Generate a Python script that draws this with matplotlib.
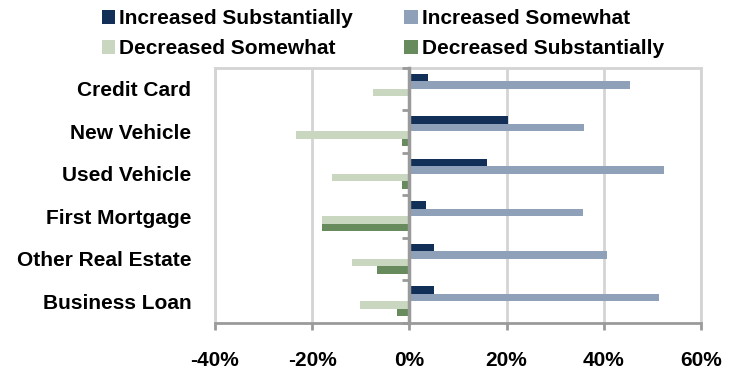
import matplotlib
matplotlib.use("Agg")
import matplotlib.pyplot as plt
import numpy as np

plt.rcParams['font.family'] = ['Liberation Sans', 'DejaVu Sans']

categories = ["Credit Card", "New Vehicle", "Used Vehicle", "First Mortgage",
              "Other Real Estate", "Business Loan"]
increased_substantially = [3.8, 20.3, 15.9, 3.5, 5.1, 5.1]
increased_somewhat = [45.3, 35.9, 52.4, 35.7, 40.7, 51.3]
decreased_somewhat = [-7.4, -23.4, -15.9, -17.9, -11.9, -10.2]
decreased_substantially = [0.0, -1.5, -1.5, -17.9, -6.7, -2.5]

series = [
    ("Increased Substantially", increased_substantially, "#112f57"),
    ("Increased Somewhat", increased_somewhat, "#8fa1b9"),
    ("Decreased Somewhat", decreased_somewhat, "#c9d7c0"),
    ("Decreased Substantially", decreased_substantially, "#678b5c"),
]
xticks = [-40, -20, 0, 20, 40, 60]
xtick_labels = ["-40%", "-20%", "0%", "20%", "40%", "60%"]

fig = plt.figure(figsize=(7.36, 3.75), dpi=100)
ax = fig.add_axes([215 / 736, 1 - 322.5 / 375, (701 - 215) / 736, (322.5 - 67.5) / 375])

y = np.arange(len(categories))
bar_h = 0.175
handles = {}
for i, (name, vals, color) in enumerate(series):
    offset = (i - 1.5) * bar_h
    h = ax.barh(y + offset, vals, height=bar_h, color=color, edgecolor="none",
                label=name, zorder=3)
    handles[name] = h

ax.set_xlim(-40, 60)
ax.set_ylim(len(categories) - 0.5, -0.5)

grid_c = "#d4d4d4"
axis_c = "#9a9a9a"
ax.set_xticks(xticks)
ax.set_xticklabels(xtick_labels, fontsize=15, fontweight="bold")
ax.tick_params(axis="x", direction="out", length=5, width=2, color=axis_c, pad=15.5)
for v in xticks:
    if v != 0:
        ax.axvline(v, color=grid_c, lw=2, zorder=1)

ax.set_yticks(y)
ax.set_yticklabels(categories, fontsize=15, fontweight="bold")
ax.tick_params(axis="y", length=0, pad=17)

for side in ("top", "right", "left"):
    ax.spines[side].set_color(grid_c)
    ax.spines[side].set_linewidth(2)
ax.spines["bottom"].set_color(axis_c)
ax.spines["bottom"].set_linewidth(2)
ax.spines["bottom"].set_zorder(5)

# vertical category axis at zero with ticks on group boundaries
zero_frac = (0 - xticks[0]) / (xticks[-1] - xticks[0])
sec = ax.secondary_yaxis(zero_frac)
sec.set_yticks(np.arange(len(categories) + 1) - 0.5)
sec.set_yticklabels([])
sec.tick_params(direction="out", length=5, width=2, color=axis_c)
sec.spines["left"].set_color(axis_c)
sec.spines["left"].set_linewidth(2.5)
sec.set_zorder(6)

order = ["Increased Substantially", "Decreased Somewhat",
         "Increased Somewhat", "Decreased Substantially"]
fig.legend([handles[n] for n in order], order, ncol=2, loc="upper left",
           bbox_to_anchor=(89 / 736, 1.0 + 3 / 375), frameon=False,
           prop={"size": 15, "weight": "bold"},
           handlelength=0.65, handleheight=0.65, handletextpad=0.2,
           columnspacing=2.45, labelspacing=0.5, borderpad=0.1)

fig.savefig("out.png", dpi=100)
